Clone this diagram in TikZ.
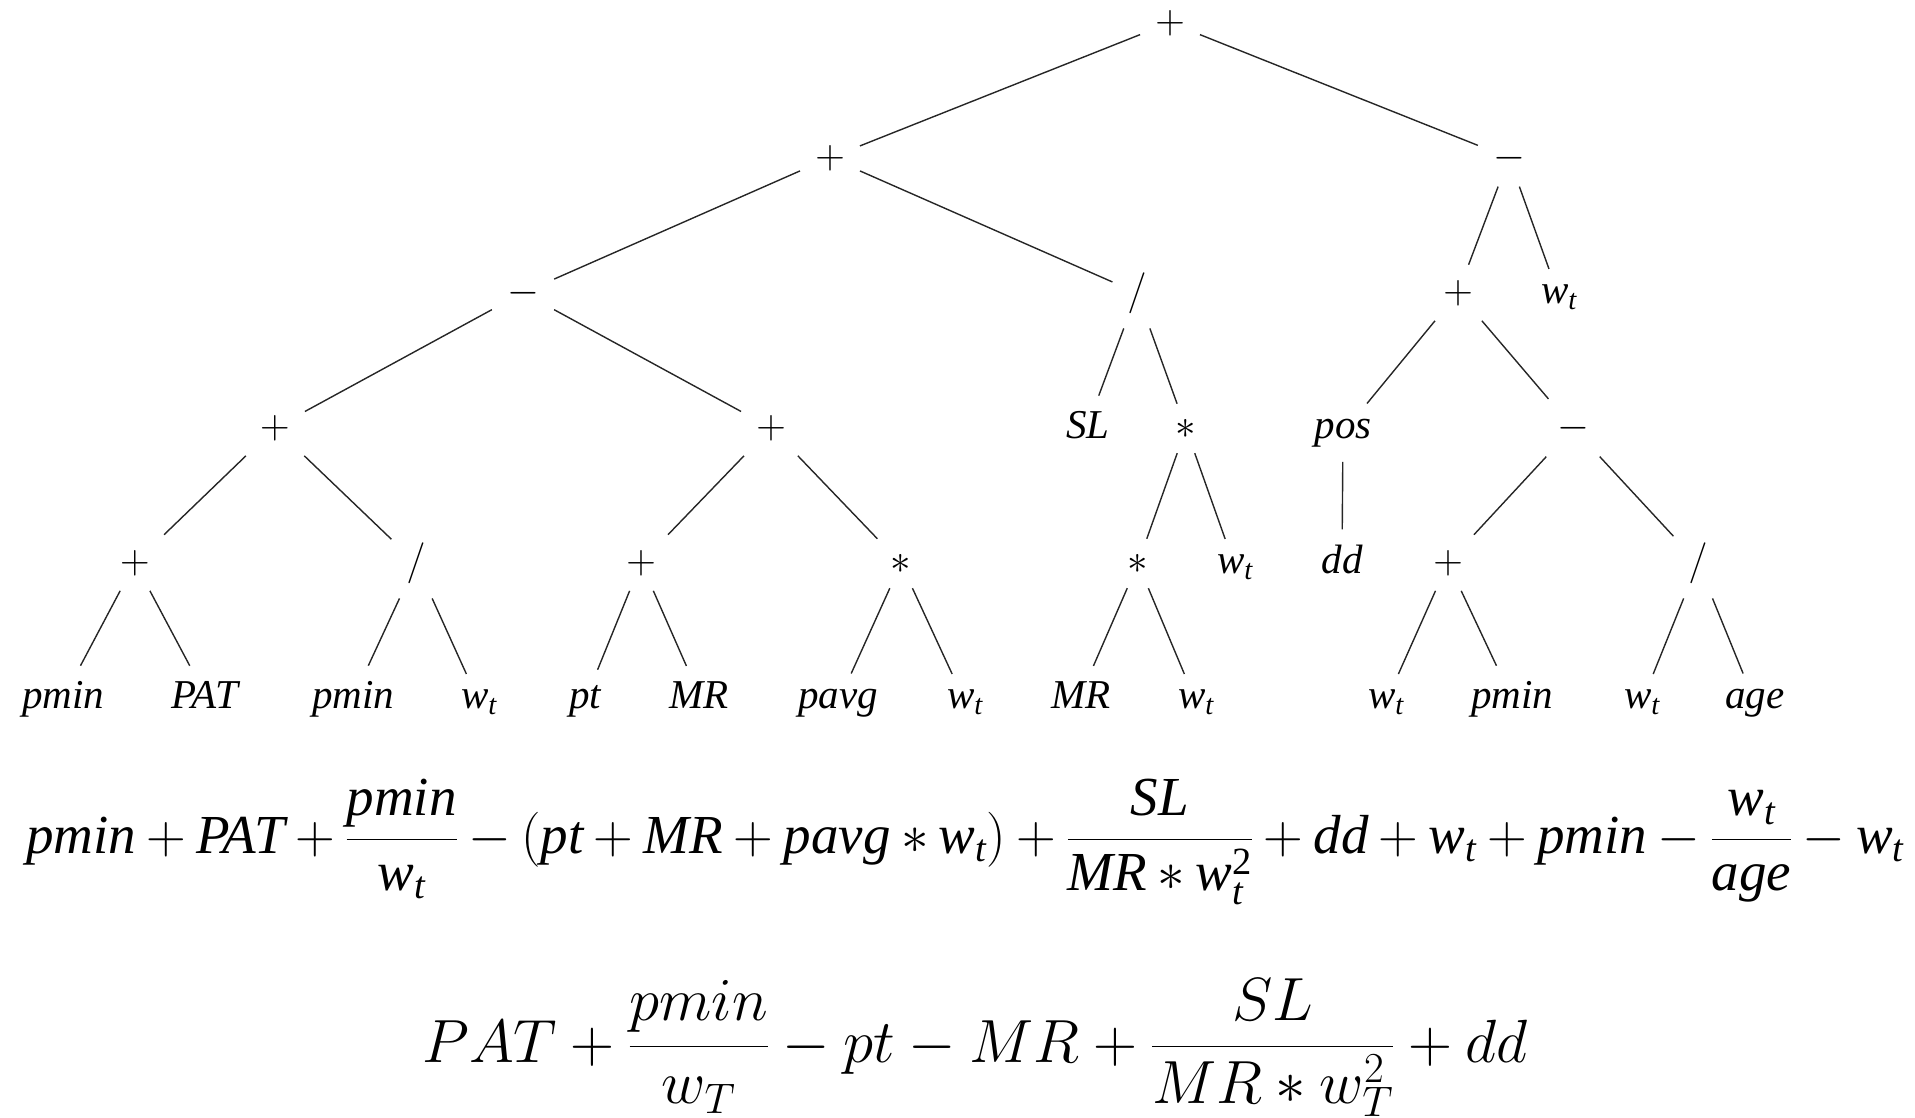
\documentclass[tikz,border=0pt]{standalone}
\usepackage{fix-cm}
\usepackage{amsmath}
\usepackage{fontspec}
\newfontfamily\tms{Liberation Serif}
\newcommand{\V}[1]{\text{\tms\itshape #1}}
\newcommand{\T}[1]{{\tms\itshape #1}}
\newcommand{\wt}{$\V{w}_{\V{t}}$}
\tikzset{
  tn/.style={inner sep=15pt, anchor=base, font=\fontsize{41}{49}\selectfont},
  edge/.style={line width=1.4pt, black!85},
}
\begin{document}
\begin{tikzpicture}[x=1pt,y=-1pt]
\useasboundingbox (0,0) rectangle (1915,1117);
% row 0
\node[tn] (r) at (1170,33) {$+$};
% row 1
\node[tn] (a) at (830,168) {$+$};
\node[tn] (b) at (1509,168) {$-$};
% row 2
\node[tn] (c) at (523,303) {$-$};
\node[tn] (d) at (1137,303) {$/$};
\node[tn] (e) at (1458,303) {$+$};
\node[tn] (f) at (1559,303) {\wt};
% row 3
\node[tn] (g) at (275,438) {$+$};
\node[tn] (h) at (771,438) {$+$};
\node[tn] (i) at (1088,438) {\T{SL}};
\node[tn] (j) at (1186,438) {$\ast$};
\node[tn] (k) at (1343,438) {\T{pos}};
\node[tn] (l) at (1573,438) {$-$};
% row 4
\node[tn] (m) at (135,573) {$+$};
\node[tn] (n) at (416,573) {$/$};
\node[tn] (o) at (641,573) {$+$};
\node[tn] (p) at (901,573) {$\ast$};
\node[tn] (q) at (1138,573) {$\ast$};
\node[tn] (s) at (1235,573) {\wt};
\node[tn] (t) at (1342,573) {\T{dd}};
\node[tn] (u) at (1448,573) {$+$};
\node[tn] (v) at (1698,573) {$/$};
% row 5
\node[tn] (L1) at (63,708) {\T{pmin}};
\node[tn] (L2) at (205,708) {\T{PAT}};
\node[tn] (L3) at (353,708) {\T{pmin}};
\node[tn] (L4) at (479,708) {\wt};
\node[tn] (L5) at (585,708) {\T{pt}};
\node[tn] (L6) at (699,708) {\T{MR}};
\node[tn] (L7) at (838,708) {\T{pavg}};
\node[tn] (L8) at (965,708) {\wt};
\node[tn] (L9) at (1081,708) {\T{MR}};
\node[tn] (L10) at (1196,708) {\wt};
\node[tn] (L11) at (1386,708) {\wt};
\node[tn] (L12) at (1512,708) {\T{pmin}};
\node[tn] (L13) at (1642,708) {\wt};
\node[tn] (L14) at (1755,708) {\T{age}};
% edges
\foreach \x/\y in {r/a,r/b,a/c,a/d,b/e,b/f,c/g,c/h,d/i,d/j,e/k,e/l,
  g/m,g/n,h/o,h/p,j/q,j/s,k/t,l/u,l/v,
  m/L1,m/L2,n/L3,n/L4,o/L5,o/L6,p/L7,p/L8,q/L9,q/L10,u/L11,u/L12,v/L13,v/L14}
  \draw[edge] (\x) -- (\y);
% equations
\node[anchor=base, inner sep=0pt, font=\fontsize{55}{66}\selectfont] (eqA) at (965,853)
 {$\medmuskip=3.4mu\displaystyle \V{pmin}+\V{PAT}+\frac{\V{pmin}}{\V{w}_{\V{t}}}-(\V{pt}+\V{MR}+\V{pavg}\ast\V{w}_{\V{t}})+\frac{\V{SL}}{\V{MR}\ast\V{w}_{\V{t}}^{\text{\tms 2}}}+\V{dd}+\V{w}_{\V{t}}+\V{pmin}-\frac{\V{w}_{\V{t}}}{\V{age}}-\V{w}_{\V{t}}$};
\node[anchor=base, inner sep=0pt, font=\fontsize{61}{73}\selectfont] (eqB) at (975,1062)
 {$\displaystyle PAT+\frac{pmin}{w_T}-pt-MR+\frac{SL}{MR\ast w_T^2}+dd$};
\end{tikzpicture}
\end{document}
